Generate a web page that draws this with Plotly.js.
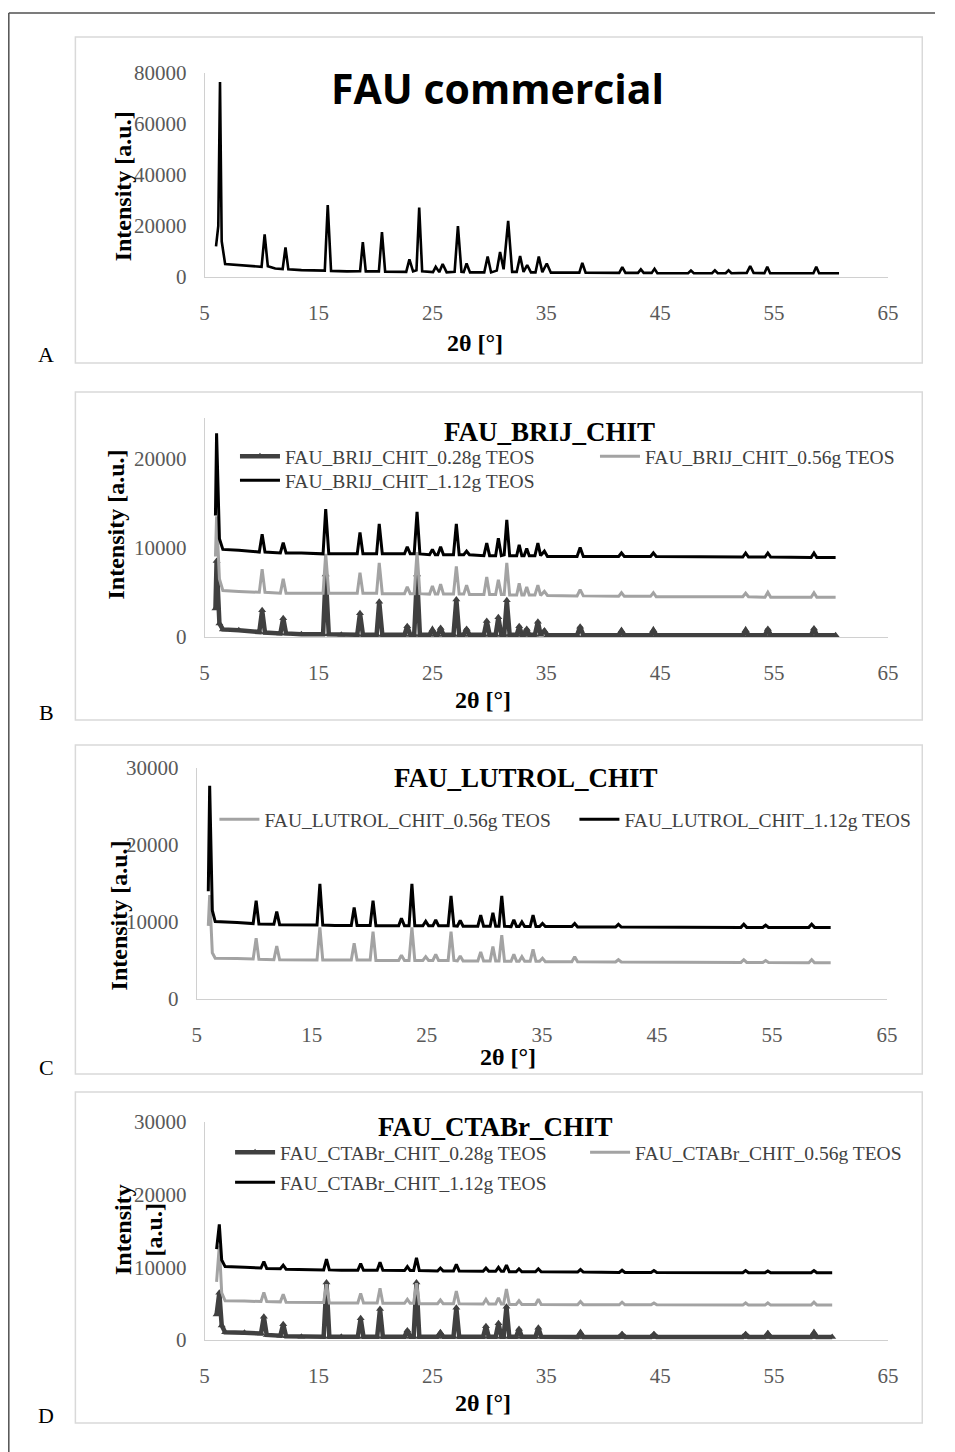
<!DOCTYPE html>
<html><head><meta charset="utf-8">
<script src="https://cdn.plot.ly/plotly-3.0.1.min.js"></script>
<style>html,body{margin:0;padding:0;background:#fff}#chart{width:955px;height:1452px}</style>
</head><body><div id="chart"></div>
<script>
// ---------- Panel A: FAU commercial ----------
const A_2theta = [6.0, 6.2, 6.35, 6.5, 6.8, 8.0, 9.5, 10.0, 10.27, 10.55,
  11.2, 11.85, 12.1, 12.35, 13.5, 15.55, 15.81, 16.1, 17.5, 18.65,
  18.89, 19.15, 20.3, 20.57, 20.85, 22.7, 22.98, 23.3, 23.6, 23.84,
  24.1, 25.05, 25.29, 25.6, 25.9, 26.25, 26.95, 27.24, 27.55, 27.75,
  28.0, 28.3, 29.55, 29.85, 30.15, 30.65, 30.94, 31.25, 31.65, 32.0,
  32.4, 32.7, 33.0, 33.32, 33.65, 34.05, 34.34, 34.65, 35.04, 35.4,
  37.9, 38.16, 38.45, 41.4, 41.67, 41.95, 43.05, 43.3, 43.55, 44.25,
  44.5, 44.75, 47.45, 47.7, 47.95, 49.55, 49.8, 50.05, 50.75, 51.0,
  51.25, 52.6, 52.9, 53.2, 54.15, 54.4, 54.65, 58.45, 58.7, 58.95, 60.7];
const A_commercial = [12000, 20000, 76500, 14000, 5100, 4600, 4100, 4000, 16700, 4200,
  3300, 3100, 11600, 3000, 2700, 2500, 28200, 2400, 2200, 2300,
  13700, 2200, 2200, 17600, 2100, 2000, 6900, 2200, 2600, 27200,
  2200, 1900, 4000, 1900, 5100, 1800, 2000, 20000, 2000, 1900,
  5300, 1800, 1800, 8000, 1800, 2500, 9800, 3000, 22000, 2000,
  2000, 8200, 2000, 4700, 1800, 1800, 8000, 1900, 5300, 1700,
  1700, 5500, 1700, 1600, 3900, 1600, 1600, 3000, 1600, 1600,
  3200, 1500, 1500, 2500, 1500, 1500, 2600, 1500, 1500, 2600,
  1500, 1600, 4300, 1600, 1500, 4000, 1500, 1500, 4000, 1500, 1500];

// ---------- Panel B: FAU_BRIJ_CHIT ----------
const B_2theta = [5.95, 6.05, 6.3, 6.6, 8.0, 9.8, 10.05, 10.3, 11.65, 11.9,
  12.15, 13.5, 15.4, 15.63, 15.9, 17.0, 18.4, 18.64, 18.9, 20.1,
  20.33, 20.6, 22.55, 22.79, 23.05, 23.4, 23.65, 23.9, 24.75, 25.0,
  25.25, 25.47, 25.72, 25.97, 26.85, 27.1, 27.35, 27.75, 28.0, 28.25,
  29.52, 29.77, 30.02, 30.55, 30.79, 31.05, 31.3, 31.53, 31.78, 32.4,
  32.62, 32.85, 33.05, 33.28, 33.5, 34.0, 34.26, 34.5, 34.83, 35.1,
  37.7, 37.97, 38.25, 41.35, 41.6, 41.85, 44.15, 44.4, 44.65, 52.25,
  52.5, 52.75, 54.2, 54.45, 54.7, 58.25, 58.5, 58.75, 60.4];
const B_028 = [3200, 8500, 1500, 850, 750, 550, 3000, 500, 400, 2100,
  400, 300, 300, 7000, 300, 250, 250, 2650, 250, 250,
  3950, 250, 250, 1200, 250, 250, 7000, 250, 250, 800,
  250, 250, 1000, 250, 250, 4200, 250, 250, 900, 250,
  250, 1800, 250, 250, 2200, 250, 250, 4100, 250, 250,
  1200, 250, 250, 900, 250, 250, 1700, 250, 700, 200,
  200, 1150, 200, 200, 700, 200, 200, 750, 200, 200,
  750, 200, 200, 900, 200, 200, 950, 200, 200];
const B_056 = [9000, 13500, 6500, 5200, 5100, 5000, 7600, 5000, 4900, 6500,
  4900, 4900, 4900, 9300, 4900, 4900, 4900, 7200, 4900, 4900,
  8300, 4850, 4850, 5600, 4850, 4850, 9500, 4850, 4800, 5700,
  4800, 4800, 5900, 4800, 4800, 7900, 4800, 4800, 5800, 4750,
  4750, 6700, 4750, 4750, 6400, 4750, 4750, 8300, 4700, 4700,
  6000, 4700, 4700, 5600, 4700, 4700, 5800, 4650, 5100, 4650,
  4600, 5300, 4600, 4550, 4950, 4550, 4550, 4950, 4500, 4500,
  4900, 4500, 4450, 5000, 4450, 4450, 4950, 4450, 4450];
const B_112 = [13600, 22800, 11000, 9800, 9700, 9500, 11500, 9500, 9400, 10550,
  9400, 9400, 9300, 14300, 9300, 9300, 9300, 11700, 9300, 9300,
  12650, 9300, 9300, 10100, 9300, 9300, 14000, 9300, 9200, 9800,
  9200, 9200, 10100, 9200, 9200, 12650, 9200, 9200, 9600, 9200,
  9100, 10500, 9100, 9100, 11050, 9100, 9200, 13100, 9100, 9100,
  10300, 9100, 9100, 9900, 9100, 9100, 10500, 9100, 9600, 9000,
  9000, 10000, 9000, 9000, 9400, 9000, 9000, 9400, 9000, 8950,
  9400, 8950, 8950, 9400, 8950, 8900, 9400, 8900, 8900];

// ---------- Panel C: FAU_LUTROL_CHIT ----------
const C_2theta = [6.0, 6.12, 6.35, 6.6, 8.5, 9.9, 10.16, 10.4, 11.7, 11.95,
  12.2, 13.5, 15.45, 15.7, 15.95, 17.0, 18.43, 18.68, 18.93, 20.07,
  20.32, 20.57, 22.55, 22.79, 23.05, 23.45, 23.7, 23.95, 24.65, 24.9,
  25.15, 25.52, 25.77, 26.02, 26.85, 27.1, 27.35, 27.65, 27.9, 28.15,
  29.43, 29.68, 29.93, 30.5, 30.74, 30.98, 31.27, 31.51, 31.75, 32.32,
  32.56, 32.8, 33.02, 33.26, 33.5, 33.98, 34.23, 34.48, 34.8, 35.05,
  35.3, 37.6, 37.85, 38.1, 41.4, 41.65, 41.9, 52.3, 52.55, 52.8,
  54.2, 54.45, 54.7, 58.2, 58.45, 58.7, 60.1];
const C_056 = [9500, 13500, 6000, 5300, 5250, 5200, 7880, 5150, 5100, 6880,
  5100, 5050, 5050, 9300, 5050, 5050, 5050, 7230, 5050, 5050,
  8740, 5000, 5000, 5700, 5000, 5000, 9300, 5000, 5000, 5500,
  5000, 5000, 5800, 5000, 5000, 8740, 5000, 4950, 5600, 4950,
  4950, 6100, 4950, 4950, 6800, 4950, 4950, 8300, 4900, 4900,
  5800, 4900, 4900, 5500, 4900, 4900, 6450, 4900, 4900, 5300,
  4850, 4850, 5500, 4850, 4800, 5100, 4800, 4750, 5100, 4750,
  4750, 5000, 4750, 4700, 5100, 4700, 4700];
const C_112 = [14000, 27700, 11500, 10050, 9950, 9800, 12770, 9750, 9700, 11340,
  9650, 9600, 9600, 14940, 9600, 9550, 9550, 11900, 9550, 9550,
  12770, 9500, 9500, 10480, 9500, 9500, 14940, 9500, 9500, 10100,
  9500, 9500, 10260, 9500, 9500, 13380, 9500, 9450, 10200, 9450,
  9450, 10900, 9450, 9450, 11210, 9450, 9450, 13380, 9450, 9400,
  10300, 9400, 9400, 10000, 9400, 9400, 10900, 9400, 9400, 9800,
  9400, 9400, 9800, 9350, 9350, 9700, 9350, 9300, 9700, 9300,
  9300, 9600, 9300, 9300, 9700, 9300, 9300];

// ---------- Panel D: FAU_CTABr_CHIT ----------
const D_2theta = [6.05, 6.29, 6.5, 6.8, 8.5, 9.95, 10.2, 10.45, 11.65, 11.9,
  12.15, 13.5, 15.45, 15.7, 15.95, 17.0, 18.45, 18.7, 18.95, 20.15,
  20.4, 20.65, 22.55, 22.8, 23.05, 23.35, 23.6, 23.85, 25.45, 25.7,
  25.95, 26.85, 27.1, 27.35, 29.45, 29.7, 29.95, 30.55, 30.8, 31.05,
  31.25, 31.5, 31.75, 32.35, 32.6, 32.85, 34.05, 34.3, 34.55, 37.75,
  38.0, 38.25, 41.4, 41.65, 41.9, 44.2, 44.45, 44.7, 52.25, 52.5,
  52.75, 54.2, 54.45, 54.7, 58.25, 58.5, 58.75, 60.1];
const D_028 = [3500, 6500, 2000, 1060, 1000, 900, 3200, 700, 600, 2160,
  500, 460, 460, 7900, 460, 450, 450, 2980, 450, 450,
  4260, 450, 450, 1300, 450, 450, 7900, 450, 450, 1000,
  450, 450, 4450, 450, 450, 1900, 450, 450, 2300, 450,
  450, 4590, 450, 450, 1500, 450, 450, 1700, 450, 400,
  1000, 400, 400, 800, 400, 400, 800, 400, 400, 800,
  400, 400, 900, 400, 400, 1000, 400, 400];
const D_056 = [8000, 13000, 6500, 5400, 5350, 5300, 6560, 5300, 5250, 6300,
  5200, 5150, 5150, 7660, 5100, 5100, 5100, 6420, 5100, 5100,
  7110, 5050, 5050, 5600, 5050, 5050, 7800, 5000, 5000, 5500,
  5000, 5000, 6740, 5000, 4950, 5600, 4950, 4950, 5800, 4950,
  4950, 7010, 4900, 4900, 5400, 4900, 4900, 5600, 4900, 4850,
  5300, 4850, 4850, 5200, 4850, 4850, 5100, 4850, 4800, 5100,
  4800, 4800, 5100, 4800, 4800, 5200, 4800, 4800];
const D_112 = [12500, 15900, 11000, 10100, 10000, 9900, 10800, 9850, 9800, 10300,
  9750, 9700, 9650, 11140, 9650, 9600, 9600, 10500, 9600, 9600,
  10690, 9600, 9550, 10100, 9550, 9550, 11320, 9550, 9500, 9900,
  9500, 9500, 10400, 9500, 9450, 9900, 9450, 9450, 10000, 9450,
  9450, 10300, 9400, 9400, 9800, 9400, 9400, 9800, 9400, 9350,
  9700, 9350, 9300, 9600, 9300, 9300, 9550, 9300, 9250, 9550,
  9250, 9250, 9500, 9250, 9250, 9550, 9250, 9250];

// ---------- labels ----------
const xTicks = [5, 15, 25, 35, 45, 55, 65];
const panelTitles = ['FAU commercial', 'FAU_BRIJ_CHIT', 'FAU_LUTROL_CHIT', 'FAU_CTABr_CHIT'];
const panelLetters = ['A', 'B', 'C', 'D'];
const yTitle = 'Intensity [a.u.]';
const xTitle = '2θ [°]';

// ---------- layout helpers ----------
const W = 955, H = 1452;
const fx = p => p / W, fy = p => 1 - p / H;
const SERIF = 'Liberation Serif';
const C028 = '#404040', C056 = '#a3a3a3', C112 = '#000000';

function s028(x, y, xa, ya, name, lg) {
  return {x, y, xaxis: xa, yaxis: ya, name, legend: lg, type: 'scatter', mode: 'lines+markers',
    line: {color: C028, width: 4.5}, marker: {symbol: 'triangle-up', size: 7, color: C028}, hoverinfo: 'skip'};
}
function s056(x, y, xa, ya, name, lg) {
  return {x, y, xaxis: xa, yaxis: ya, name, legend: lg, type: 'scatter', mode: 'lines',
    line: {color: C056, width: 3}, hoverinfo: 'skip'};
}
function s112(x, y, xa, ya, name, lg) {
  return {x, y, xaxis: xa, yaxis: ya, name, legend: lg, type: 'scatter', mode: 'lines',
    line: {color: C112, width: 3}, hoverinfo: 'skip'};
}

const traces = [
  {x: A_2theta, y: A_commercial, xaxis: 'x', yaxis: 'y', type: 'scatter', mode: 'lines',
   line: {color: '#000', width: 2.6}, showlegend: false, hoverinfo: 'skip', name: 'FAU commercial'},
  s028(B_2theta, B_028, 'x2', 'y2', 'FAU_BRIJ_CHIT_0.28g TEOS', 'legend'),
  s056(B_2theta, B_056, 'x2', 'y2', 'FAU_BRIJ_CHIT_0.56g TEOS', 'legend'),
  s112(B_2theta, B_112, 'x2', 'y2', 'FAU_BRIJ_CHIT_1.12g TEOS', 'legend2'),
  s056(C_2theta, C_056, 'x3', 'y3', 'FAU_LUTROL_CHIT_0.56g TEOS', 'legend3'),
  s112(C_2theta, C_112, 'x3', 'y3', 'FAU_LUTROL_CHIT_1.12g TEOS', 'legend3'),
  s028(D_2theta, D_028, 'x4', 'y4', 'FAU_CTABr_CHIT_0.28g TEOS', 'legend4'),
  s056(D_2theta, D_056, 'x4', 'y4', 'FAU_CTABr_CHIT_0.56g TEOS', 'legend4'),
  s112(D_2theta, D_112, 'x4', 'y4', 'FAU_CTABr_CHIT_1.12g TEOS', 'legend5')
];

const tickFont = {family: SERIF, size: 21, color: '#595959'};
function xax(l, r, anchor) {
  return {domain: [fx(l), fx(r)], anchor, range: [5, 65], tickmode: 'array', tickvals: xTicks,
    showgrid: false, zeroline: false, showline: true, linecolor: '#d0d0d0', linewidth: 1,
    ticks: '', tickfont: tickFont, ticklabelstandoff: 17, fixedrange: true};
}
function yax(top, bottom, anchor, max, dtick) {
  return {domain: [fy(bottom), fy(top)], anchor, range: [0, max], tickmode: 'linear', tick0: 0, dtick,
    tickformat: 'd', showgrid: false, zeroline: false, showline: true, linecolor: '#d0d0d0', linewidth: 1,
    ticks: '', tickfont: tickFont, ticklabelstandoff: 13, fixedrange: true};
}
function leg(xpx, toppx, ew) {
  return {orientation: 'h', x: fx(xpx), y: fy(toppx), xanchor: 'left', yanchor: 'top',
    bgcolor: 'rgba(0,0,0,0)', borderwidth: 0, font: {family: SERIF, size: 19.5, color: '#404040'},
    entrywidth: ew, entrywidthmode: 'pixels', itemwidth: 40, traceorder: 'normal',
    itemclick: false, itemdoubleclick: false};
}
function ann(text, x, y, font, angle) {
  return {text, x: fx(x), y: fy(y), xref: 'paper', yref: 'paper', xanchor: 'center', yanchor: 'middle',
    showarrow: false, font, textangle: angle || 0};
}
const bold24 = {family: SERIF, size: 24, color: '#000', weight: 'bold'};
const title27 = {family: SERIF, size: 27, color: '#000', weight: 'bold'};
const letterFont = {family: SERIF, size: 22, color: '#000'};

function rect(x0, y0, x1, y1, color, w) {
  return {type: 'rect', xref: 'paper', yref: 'paper', x0: fx(x0), x1: fx(x1), y0: fy(y1), y1: fy(y0),
    line: {color, width: w}, fillcolor: 'rgba(0,0,0,0)', layer: 'below'};
}
function seg(x0, y0, x1, y1, color, w) {
  return {type: 'line', xref: 'paper', yref: 'paper', x0: fx(x0), x1: fx(x1), y0: fy(y0), y1: fy(y1),
    line: {color, width: w}};
}

const layout = {
  width: W, height: H, margin: {l: 0, r: 0, t: 0, b: 0},
  paper_bgcolor: '#fff', plot_bgcolor: 'rgba(0,0,0,0)', showlegend: true,
  xaxis: xax(209, 907, 'y'), yaxis: yax(73, 277, 'x', 80000, 20000),
  xaxis2: xax(209, 907, 'y2'), yaxis2: yax(418, 637, 'x2', 24500, 10000),
  xaxis3: xax(201, 906, 'y3'), yaxis3: yax(768, 999, 'x3', 30000, 10000),
  xaxis4: xax(209, 907, 'y4'), yaxis4: yax(1122, 1340, 'x4', 30000, 10000),
  legend: leg(240, 437, 305),
  legend2: leg(240, 461, 305),
  legend3: leg(219, 800, 305),
  legend4: leg(235, 1133, 300),
  legend5: leg(235, 1163, 300),
  shapes: [
    seg(9, 13, 955, 13, '#505050', 1.5),
    seg(9, 13, 9, 1452, '#505050', 1.5),
    rect(77, 37, 942, 363, '#d9d9d9', 1.5),
    rect(77, 392, 942, 720, '#d9d9d9', 1.5),
    rect(77, 745, 942, 1074, '#d9d9d9', 1.5),
    rect(77, 1092, 942, 1423, '#d9d9d9', 1.5)
  ],
  annotations: [
    ann(panelTitles[0], 508, 88, {family: 'Open Sans', size: 41, color: '#000', weight: 'bold'}),
    ann(panelTitles[1], 561, 432, title27),
    ann(panelTitles[2], 537, 778, title27),
    ann(panelTitles[3], 506, 1127, title27),
    ann(yTitle, 126, 186, bold24, -90),
    ann(yTitle, 118, 525, bold24, -90),
    ann(yTitle, 122, 915, bold24, -90),
    ann('Intensity<br>[a.u.]', 141, 1230, bold24, -90),
    ann(xTitle, 485, 343, bold24),
    ann(xTitle, 493, 700, bold24),
    ann(xTitle, 519, 1057, bold24),
    ann(xTitle, 493, 1403, bold24),
    ann(panelLetters[0], 47, 355, letterFont),
    ann(panelLetters[1], 47, 712, letterFont),
    ann(panelLetters[2], 47, 1067, letterFont),
    ann(panelLetters[3], 47, 1415, letterFont)
  ]
};

Plotly.newPlot('chart', traces, layout, {displayModeBar: false, staticPlot: true});
</script>
</body></html>
